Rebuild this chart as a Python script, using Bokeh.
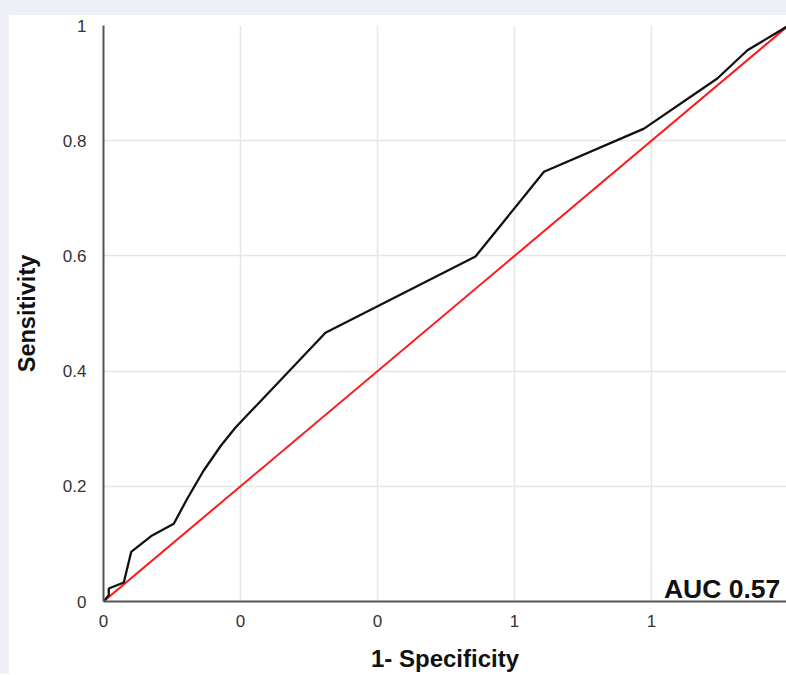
from bokeh.plotting import figure
from bokeh.models import Range1d, FixedTicker, Label, Div, Column, Row
from bokeh.embed import file_html
from bokeh.resources import INLINE

# ROC curve (1-specificity, sensitivity)
fpr = [0.0, 0.0077, 0.0077, 0.0296, 0.0404, 0.071, 0.1026, 0.122, 0.146, 0.171,
       0.1927, 0.324, 0.543, 0.643, 0.789, 0.896, 0.940, 1.0]
tpr = [0.0, 0.011, 0.0225, 0.0329, 0.086, 0.1147, 0.135, 0.178, 0.227, 0.270,
       0.302, 0.4666, 0.599, 0.746, 0.821, 0.908, 0.957, 1.0]
diag_x = [0.0, 1.0]
diag_y = [0.0, 1.0]

x_ticks = [0, 0.2, 0.4, 0.6, 0.8, 1.0]
x_tick_labels = ["0", "0", "0", "1", "1", "1"]
y_ticks = [0, 0.2, 0.4, 0.6, 0.8, 1.0]
y_tick_labels = ["0", "0.2", "0.4", "0.6", "0.8", "1"]
auc_text = "AUC 0.57"

FONT = "Liberation Sans"
BAND = "#eff0f5"

p = figure(width=777, height=659, output_backend="svg", toolbar_location=None,
           x_range=Range1d(0, 0.997), y_range=Range1d(0, 1),
           min_border_left=94, min_border_right=0, min_border_top=10, min_border_bottom=71)
p.outline_line_color = None
p.background_fill_color = "white"
p.border_fill_color = "white"

p.line(diag_x, diag_y, line_color="#ff1a1a", line_width=2)
p.line(fpr, tpr, line_color="#111111", line_width=2.3)

p.xaxis.ticker = FixedTicker(ticks=x_ticks)
p.yaxis.ticker = FixedTicker(ticks=y_ticks)
p.xaxis.major_label_overrides = {t: l for t, l in zip(x_ticks, x_tick_labels)}
p.yaxis.major_label_overrides = {t: l for t, l in zip(y_ticks, y_tick_labels)}

for ax in (p.xaxis, p.yaxis):
    ax.axis_line_color = "#555555"
    ax.axis_line_width = 2
    ax.major_tick_out = 0
    ax.major_tick_in = 0
    ax.minor_tick_out = 0
    ax.minor_tick_in = 0
    ax.major_label_text_font = FONT
    ax.major_label_text_font_size = "17px"
    ax.major_label_text_color = "#333333"
    ax.axis_label_text_font = FONT
    ax.axis_label_text_font_style = "bold"
    ax.axis_label_text_color = "#111111"

p.xaxis.axis_label = "1- Specificity"
p.yaxis.axis_label = "Sensitivity"
p.xaxis.axis_label_text_font_size = "24px"
p.yaxis.axis_label_text_font_size = "23.5px"
p.yaxis.axis_label_text_line_height = 0.8
p.xaxis.major_label_standoff = 13
p.yaxis.major_label_standoff = 17
p.xaxis.axis_label_standoff = 15
p.yaxis.axis_label_standoff = 20

p.grid.grid_line_color = "#e6e6e6"
p.grid.grid_line_width = 1.5

p.add_layout(Label(x=0.988, y=0.0225, text=auc_text, text_align="right",
                   text_baseline="alphabetic", text_font=FONT, text_font_style="bold",
                   text_font_size="26.5px", text_color="#111111"))

top_band = Div(text="", width=786, height=15, margin=0, styles={"background-color": BAND})
left_band = Div(text="", width=9, height=659, margin=0, styles={"background-color": BAND})
layout = Column(top_band, Row(left_band, p, spacing=0), spacing=0)

open("out.html", "w").write(file_html(layout, INLINE))
